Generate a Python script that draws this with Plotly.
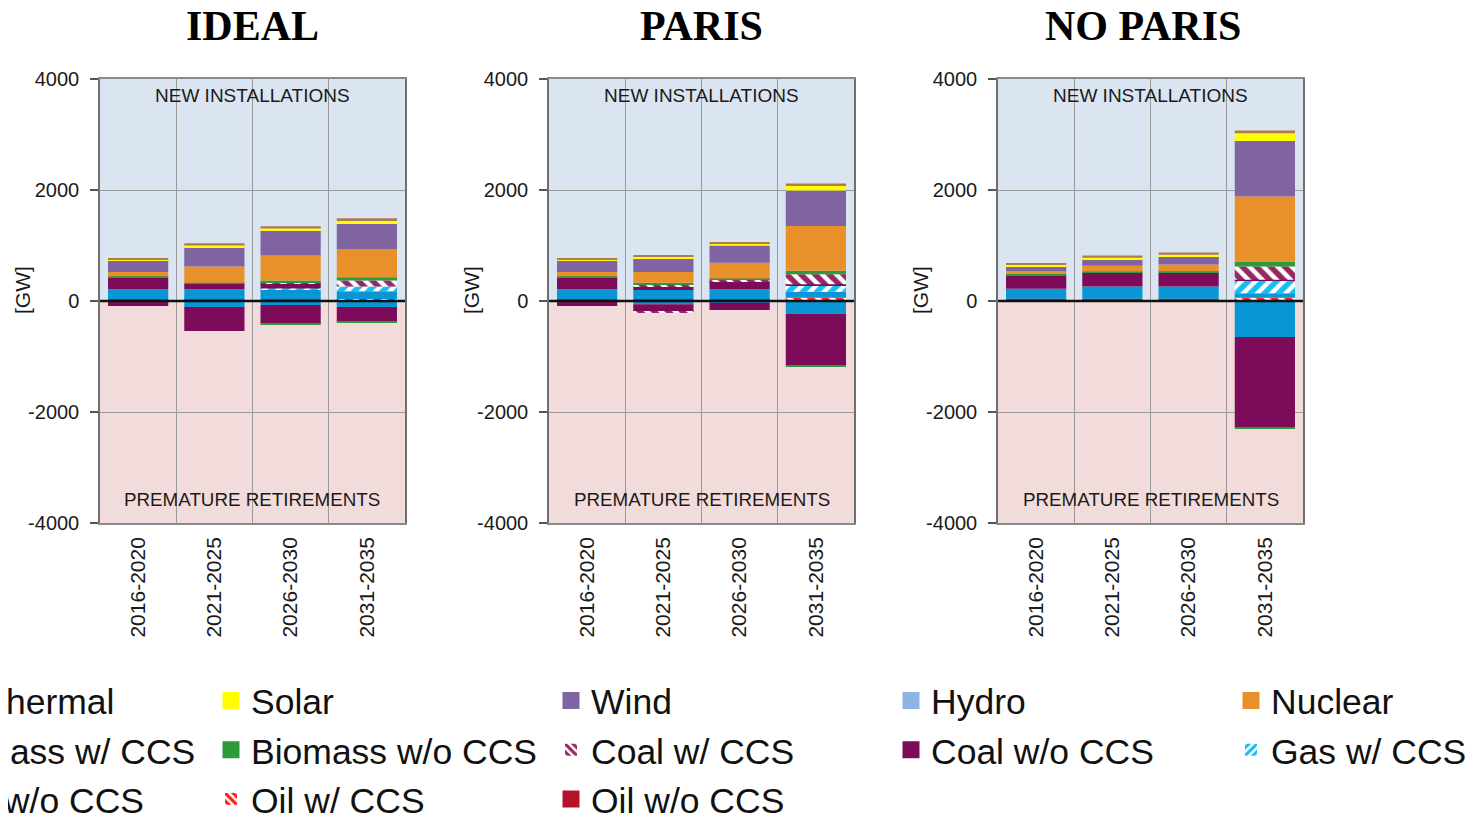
import plotly.graph_objects as go

# ---------------- data ----------------
periods = ["2016-2020", "2021-2025", "2026-2030", "2031-2035"]
scenarios = ["IDEAL", "PARIS", "NO PARIS"]

# series in stacking order (bottom -> top)
series = ["Oil w/o CCS", "Oil w/ CCS", "Gas w/o CCS", "Gas w/ CCS",
          "Coal w/o CCS", "Coal w/ CCS", "Biomass w/o CCS", "Biomass w/ CCS",
          "Nuclear", "Hydro", "Wind", "Solar", "Geothermal"]

# new installations [GW], rows follow `series`, columns follow `periods`
ideal_new = [
    [30, 30, 30, 25], [0, 0, 0, 10], [180, 180, 180, 140], [0, 0, 15, 85],
    [210, 100, 90, 0], [0, 0, 25, 108], [25, 20, 30, 60], [0, 0, 0, 0],
    [78, 290, 450, 510], [0, 0, 0, 0], [210, 350, 440, 450], [15, 30, 45, 70],
    [25, 40, 40, 35]]
paris_new = [
    [30, 30, 30, 20], [0, 0, 0, 40], [180, 168, 180, 108], [0, 0, 0, 120],
    [210, 72, 150, 15], [0, 30, 20, 180], [25, 30, 25, 60], [0, 0, 0, 0],
    [78, 192, 282, 810], [0, 0, 0, 0], [210, 245, 315, 640], [15, 30, 40, 78],
    [20, 30, 20, 45]]
noparis_new = [
    [40, 40, 40, 20], [0, 0, 0, 40], [180, 222, 222, 80], [0, 0, 0, 228],
    [240, 246, 246, 15], [0, 0, 0, 240], [25, 25, 30, 90], [0, 0, 0, 0],
    [48, 102, 120, 1170], [0, 0, 0, 0], [96, 114, 140, 1002], [20, 30, 35, 138],
    [28, 40, 43, 48]]

# premature retirements [GW]
ideal_ret = [
    [0, 0, 0, 0], [0, 0, 0, 0], [-20, -108, -70, -110], [0, 0, 0, 0],
    [-70, -432, -340, -260], [0, 0, 0, 0], [0, 0, -10, -10], [0, 0, 0, 0],
    [0, 0, 0, 0], [0, 0, 0, 0], [0, 0, 0, 0], [0, 0, 0, 0], [0, 0, 0, 0]]
paris_ret = [
    [0, 0, 0, 0], [0, 0, 0, 0], [-20, -60, -30, -230], [0, 0, 0, 0],
    [-70, -138, -130, -930], [0, -20, 0, 0], [0, 0, 0, -20], [0, 0, 0, 0],
    [0, 0, 0, 0], [0, 0, 0, 0], [0, 0, 0, 0], [0, 0, 0, 0], [0, 0, 0, 0]]
noparis_ret = [
    [0, 0, 0, 0], [0, 0, 0, 0], [0, 0, 0, -648], [0, 0, 0, 0],
    [0, 0, 0, -1632], [0, 0, 0, 0], [0, 0, 0, -20], [0, 0, 0, 0],
    [0, 0, 0, 0], [0, 0, 0, 0], [0, 0, 0, 0], [0, 0, 0, 0], [0, 0, 0, 0]]

ytick_vals = [-4000, -2000, 0, 2000, 4000]
ytick_text = ["-4000", "-2000", "0", "2000", "4000"]

new_data = [ideal_new, paris_new, noparis_new]
ret_data = [ideal_ret, paris_ret, noparis_ret]

# ---------------- styles ----------------
colors = {
    "Oil w/o CCS": "#b5122c", "Oil w/ CCS": "#ff1f1f", "Gas w/o CCS": "#0a95d5",
    "Gas w/ CCS": "#14c0f2", "Coal w/o CCS": "#7c0c59", "Coal w/ CCS": "#962763",
    "Biomass w/o CCS": "#2f9a3a", "Biomass w/ CCS": "#5a8f3a", "Nuclear": "#e8902a",
    "Hydro": "#8db4e2", "Wind": "#8064a2", "Solar": "#ffff00", "Geothermal": "#b07a4f"}
patterns = {"Oil w/ CCS": "\\", "Gas w/ CCS": "/", "Coal w/ CCS": "\\", "Biomass w/ CCS": "/"}
# legend column / row
legend_pos = {
    "Geothermal": ("legend", 1), "Biomass w/ CCS": ("legend", 2), "Gas w/o CCS": ("legend", 3),
    "Solar": ("legend2", 1), "Biomass w/o CCS": ("legend2", 2), "Oil w/ CCS": ("legend2", 3),
    "Wind": ("legend3", 1), "Coal w/ CCS": ("legend3", 2), "Oil w/o CCS": ("legend3", 3),
    "Hydro": ("legend4", 1), "Coal w/o CCS": ("legend4", 2),
    "Nuclear": ("legend5", 1), "Gas w/ CCS": ("legend5", 2)}

W, H = 1480, 815
OFF = 8  # page body margin offset
FONT = "Arial, 'Liberation Sans', sans-serif"


def fx(px):
    return (px - OFF) / W


def fy(py):
    return 1 - (py - OFF) / H


px_x = [(100, 405), (549, 854), (998, 1303)]
title_x = [252, 701, 1143]
py_top, py_bot = 79, 523

fig = go.Figure()


def marker_for(name, legend_icon=False):
    c = colors[name]
    if name in patterns:
        return dict(color="white",
                    line=dict(width=4 if legend_icon else 0, color="rgba(255,255,255,0)"),
                    pattern=dict(shape=patterns[name], fgcolor=c, bgcolor="white",
                                 size=7 if legend_icon else 10, solidity=0.55,
                                 fillmode="replace", fgopacity=1))
    return dict(color=c, line=dict(width=5 if legend_icon else 0, color=c))


for p in range(3):
    ax = "" if p == 0 else str(p + 1)
    for kind, data in (("new", new_data[p]), ("ret", ret_data[p])):
        for i, name in enumerate(series):
            fig.add_trace(go.Bar(
                x=periods, y=data[i], name=name, marker=marker_for(name),
                xaxis="x" + ax, yaxis="y" + ax, legendgroup=name, showlegend=False,
                hovertemplate=name + ": %{y} GW<extra></extra>"))

# legend-only entries (no marks drawn)
for name in series:
    lg, rank = legend_pos[name]
    fig.add_trace(go.Bar(
        x=[None], y=[None], name=name, marker=marker_for(name, legend_icon=True),
        xaxis="x", yaxis="y", legendgroup=name, showlegend=True, legend=lg,
        legendrank=rank, hoverinfo="skip"))

layout = dict(
    width=W, height=H, barmode="relative", bargap=0.21,
    paper_bgcolor="white", plot_bgcolor="rgba(0,0,0,0)",
    margin=dict(l=0, r=0, t=0, b=0, autoexpand=False),
    font=dict(family=FONT, color="#1a1a1a"),
)

shapes, annotations = [], []
for p in range(3):
    ax = "" if p == 0 else str(p + 1)
    x0, x1 = px_x[p]
    layout["xaxis" + ax] = dict(
        domain=[fx(x0), fx(x1)], anchor="y" + ax, type="category", tickson="boundaries",
        showgrid=True, gridcolor="#9a9a9a", gridwidth=1, showline=True, mirror=True,
        linecolor="#8a8a8a", linewidth=1.5, ticks="", tickangle=-90,
        ticklabelstandoff=4,
        tickfont=dict(size=21, family=FONT, color="#1a1a1a"), fixedrange=True)
    layout["yaxis" + ax] = dict(
        domain=[fy(py_bot), fy(py_top)], anchor="x" + ax,
        range=[-4000, 4000], tickvals=ytick_vals, ticktext=ytick_text,
        showgrid=True, gridcolor="#9a9a9a", gridwidth=1, zeroline=False,
        showline=True, mirror=True, linecolor="#6f6f6f", linewidth=1.5,
        ticks="outside", ticklen=8, tickcolor="#555555", tickwidth=1.5,
        ticklabelstandoff=7,
        tickfont=dict(size=20, family=FONT, color="#1a1a1a"), fixedrange=True)
    xr, yr = "x" + ax, "y" + ax
    shapes += [
        dict(type="rect", xref=xr + " domain", yref=yr, x0=0, x1=1, y0=0, y1=4000,
             fillcolor="#dbe5f1", line=dict(width=0), layer="below"),
        dict(type="rect", xref=xr + " domain", yref=yr, x0=0, x1=1, y0=-4000, y1=0,
             fillcolor="#f2dcdb", line=dict(width=0), layer="below"),
        dict(type="line", xref=xr + " domain", yref=yr, x0=0, x1=1, y0=0, y1=0,
             line=dict(color="#111111", width=2.5), layer="above"),
    ]
    annotations += [
        dict(text="<b>" + scenarios[p] + "</b>", xref="paper", yref="paper",
             x=fx(title_x[p]), y=fy(26), showarrow=False, xanchor="center", yanchor="middle",
             font=dict(family="'Times New Roman', 'Liberation Serif', serif", size=42, color="#000")),
        dict(text="NEW INSTALLATIONS", xref=xr + " domain", yref=yr, x=0.5, y=3710,
             showarrow=False, xanchor="center", yanchor="middle",
             font=dict(size=19, family=FONT, color="#1a1a1a")),
        dict(text="PREMATURE RETIREMENTS", xref=xr + " domain", yref=yr, x=0.5, y=-3570,
             showarrow=False, xanchor="center", yanchor="middle",
             font=dict(size=18.8, family=FONT, color="#1a1a1a")),
        dict(text="[GW]", xref="paper", yref="paper", x=fx(x0 - 78), y=fy(290),
             textangle=-90, showarrow=False, xanchor="center", yanchor="middle",
             font=dict(size=21, family=FONT, color="#1a1a1a")),
    ]

layout["shapes"] = shapes
layout["annotations"] = annotations

text_starts = [-71, 251, 591, 931, 1271]
for k, ts in enumerate(text_starts):
    key = "legend" if k == 0 else "legend" + str(k + 1)
    layout[key] = dict(
        x=fx(ts - 40), y=fy(671), xanchor="left", yanchor="top",
        orientation="v", traceorder="normal", bgcolor="rgba(0,0,0,0)",
        borderwidth=0, font=dict(size=35.5, family=FONT, color="#111"))

fig.update_layout(**layout)
fig.write_html("out.html")
